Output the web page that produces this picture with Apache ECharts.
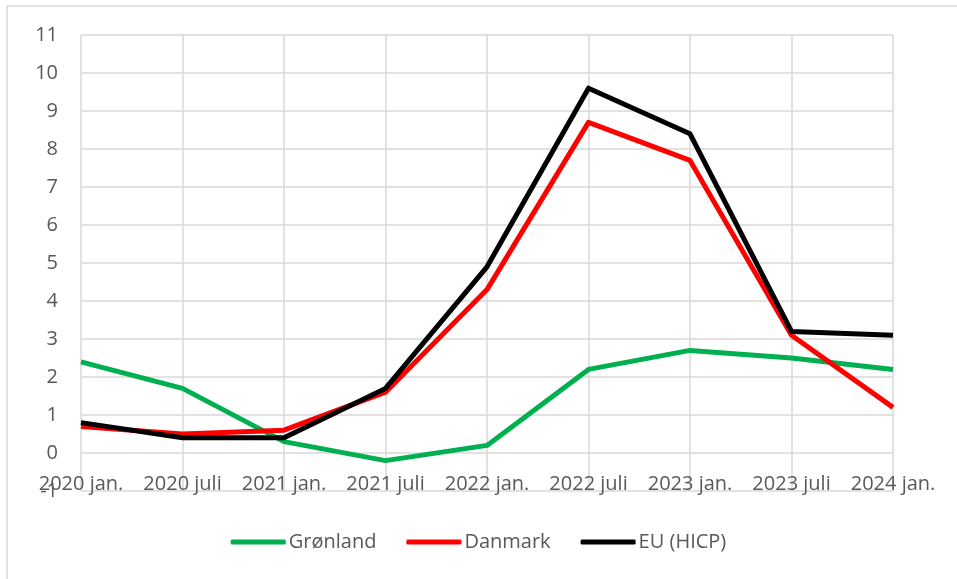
<!DOCTYPE html>
<html>
<head>
<meta charset="utf-8">
<script src="https://cdn.jsdelivr.net/npm/echarts@6/dist/echarts.min.js"></script>
<style>
    html, body { margin: 0; padding: 0; background: #ffffff; }
    #chart { width: 957px; height: 579px; }
</style>
</head>
<body>
<div id="chart"></div>
<script>
// Categories (half-year points)
var categories = ["2020 jan.", "2020 juli", "2021 jan.", "2021 juli", "2022 jan.",
    "2022 juli", "2023 jan.", "2023 juli", "2024 jan."];

// Series values
var groenland = [2.4, 1.7, 0.3, -0.2, 0.2, 2.2, 2.7, 2.5, 2.2];
var danmark = [0.7, 0.5, 0.6, 1.6, 4.3, 8.7, 7.7, 3.1, 1.2];
var eu = [0.8, 0.4, 0.4, 1.7, 4.9, 9.6, 8.4, 3.2, 3.1];

var seriesNames = ["Grønland", "Danmark", "EU (HICP)"];
var seriesColors = ["#00B050", "#FF0000", "#000000"];

var yMin = -1;
var yMax = 11;

var font = "'Open Sans', 'Noto Sans', sans-serif";
var textColor = "#595959";
var gridColor = "#d9d9d9";

var gridTop = 35;
var gridBottom = 88;
var chartHeight = 579;

var chart = echarts.init(document.getElementById("chart"));

function makeLine(name, data, color) {
    return {
        name: name,
        type: "line",
        data: data,
        showSymbol: false,
        symbol: "none",
        lineStyle: { color: color, width: 5, join: "round" },
        itemStyle: { color: color },
        emphasis: { disabled: true },
    };
}

// the category labels sit on the zero line, like in the spreadsheet
var unitPx = (chartHeight - gridTop - gridBottom) / (yMax - yMin);
var zeroOffset = -(0 - yMin) * unitPx;

var options = {
    animation: false,
    backgroundColor: "#ffffff",
    graphic: [
        {
            type: "rect",
            shape: { x: 7, y: 6, width: 970, height: 600 },
            style: { fill: "none", stroke: gridColor, lineWidth: 1.5 },
            silent: true,
        },
    ],
    grid: {
        left: 81,
        right: 64,
        top: gridTop,
        bottom: gridBottom,
        containLabel: false,
    },
    legend: {
        bottom: 22,
        left: "center",
        itemWidth: 55,
        itemHeight: 5,
        itemGap: 30,
        icon: "roundRect",
        textStyle: { fontFamily: font, fontSize: 20, color: textColor, padding: [0, 0, 0, -2] },
        data: seriesNames,
    },
    xAxis: {
        type: "category",
        data: categories,
        boundaryGap: false,
        offset: zeroOffset,
        axisLine: { show: false },
        axisTick: { show: false },
        axisLabel: {
            fontFamily: font,
            fontSize: 20,
            color: textColor,
            margin: 21,
            interval: 0,
        },
        splitLine: { show: true, lineStyle: { color: gridColor, width: 1.5 } },
    },
    yAxis: {
        type: "value",
        min: yMin,
        max: yMax,
        interval: 1,
        axisLine: { show: false },
        axisTick: { show: false },
        axisLabel: {
            fontFamily: font,
            fontSize: 20,
            color: textColor,
            margin: 23,
        },
        splitLine: { show: true, lineStyle: { color: gridColor, width: 1.5 } },
    },
    series: [
        makeLine(seriesNames[0], groenland, seriesColors[0]),
        makeLine(seriesNames[1], danmark, seriesColors[1]),
        makeLine(seriesNames[2], eu, seriesColors[2]),
    ],
};

chart.setOption(options);
</script>
</body>
</html>
